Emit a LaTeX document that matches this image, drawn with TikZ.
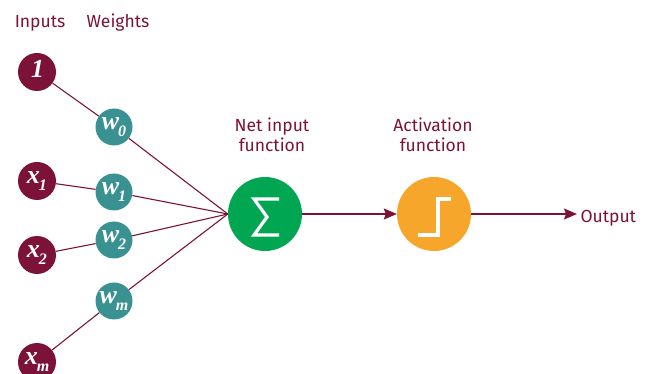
\documentclass[tikz,border=0pt]{standalone}
\usepackage{fontspec}
\setmainfont{Fira Sans}
\newfontfamily\lsi{Liberation Serif}[UprightFont=* Bold Italic]
\usetikzlibrary{arrows.meta}
\definecolor{maroon}{RGB}{125,18,56}
\definecolor{teal2}{RGB}{58,145,145}
\definecolor{green2}{RGB}{0,166,81}
\definecolor{orange2}{RGB}{247,166,44}
\newcommand\lab[2]{{\lsi #1}\kern-1pt\raisebox{-0.5ex}{\fontsize{16}{16}\lsi #2}}
\begin{document}
\begin{tikzpicture}[x=1pt,y=-1pt,
  inp/.style={circle,fill=maroon,minimum size=38pt,inner sep=0pt,text=white,font=\fontsize{26}{26}\selectfont},
  wt/.style={circle,fill=teal2,minimum size=37pt,inner sep=0pt,text=white,font=\fontsize{26}{26}\selectfont},
  big/.style={circle,minimum size=74pt,inner sep=0pt},
  lbl/.style={text=maroon,font=\fontsize{17.5}{20}\selectfont,align=center},
  conn/.style={draw=maroon,line width=1.1pt},
  arr/.style={conn,-{Stealth[length=13pt,width=11pt,inset=2pt]}},
  sym/.style={draw=white,line width=3.2pt}]
\useasboundingbox (0,0) rectangle (649,374);
\node[lbl] (tin) at (40,23) {Inputs};
\node[lbl] (twt) at (118,23) {Weights};
\node[inp] (i0) at (37,72) {\lab{1}{}};
\node[inp] (i1) at (37,181) {\lab{x}{1}};
\node[inp] (i2) at (37,255) {\lab{x}{2}};
\node[inp] (im) at (37,362) {\lab{x}{m}};
\node[wt] (w0) at (114,127) {\lab{w}{0}};
\node[wt] (w1) at (114,192) {\lab{w}{1}};
\node[wt] (w2) at (114,240) {\lab{w}{2}};
\node[wt] (wm) at (114,301) {\lab{w}{m}};
\node[big,fill=green2] (sum) at (265,214) {};
\node[big,fill=orange2] (act) at (434,214) {};
\node[lbl] (tnet) at (272,135) {Net input\\function};
\node[lbl] (tact) at (433,135) {Activation\\function};
\node[lbl,anchor=west] (tout) at (577,218) {Output};
\coordinate (conv) at (sum.west);
\coordinate (oend) at (tout.west |- act.east);
\begin{scope}[on background layer/.try]
\foreach \i/\w in {i0/w0,i1/w1,i2/w2,im/wm}{
  \draw[conn] (\i) -- (\w);
  \draw[conn] (\w) -- (conv);
}
\end{scope}
\draw[arr] (sum.east) -- (act.west);
\draw[arr] (act.east) -- (oend);
\draw[sym,line join=miter] (279,199) -- (254,199) -- (267,217) -- (254,235) -- (279,235);
\draw[sym] (418,235) -- (438,235) -- (438,199) -- (451,199);
\end{tikzpicture}
\end{document}
